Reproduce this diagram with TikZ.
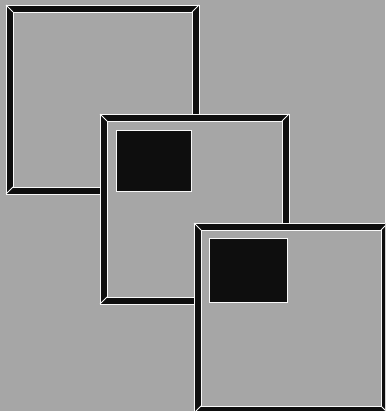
\documentclass[tikz,border=0pt]{standalone}
\usepackage{tikz}
\definecolor{paper}{RGB}{166,166,166}
\definecolor{ink}{RGB}{14,14,14}

\begin{document}
\begin{tikzpicture}[x=1pt, y=-1pt,
    border/.style={draw=ink, line width=7pt},
    shine/.style={draw=white!92!paper, line width=0.9pt},
    blackbox/.style={fill=ink, draw=white!92!paper, line width=0.9pt}]
% page
\useasboundingbox (0,0) rectangle (385,411);
\clip (0,0) rectangle (385,411);
\fill[paper] (0,0) rectangle (385,411);
% three frames, each one laid over the last
\foreach \xa/\ya/\xb/\yb in {6/5/199/194, 100/114/289/304, 194/223/388/413} {
  \fill[paper] (\xa,\ya) rectangle (\xb,\yb);
  \draw[border] (\xa+3.5,\ya+3.5) rectangle (\xb-3.5,\yb-3.5);
  \draw[shine] (\xa,\ya) rectangle (\xb,\yb);
  \draw[shine] (\xa+7,\ya+7) rectangle (\xb-7,\yb-7);
  \draw[shine] (\xa,\ya) -- (\xa+7,\ya+7);
  \draw[shine] (\xb,\ya) -- (\xb-7,\ya+7);
  \draw[shine] (\xa,\yb) -- (\xa+7,\yb-7);
  \draw[shine] (\xb,\yb) -- (\xb-7,\yb-7);
}
% dark panels
\draw[blackbox] (116,130) rectangle (191,191);
\draw[blackbox] (209,238) rectangle (287,302);
\end{tikzpicture}
\end{document}
